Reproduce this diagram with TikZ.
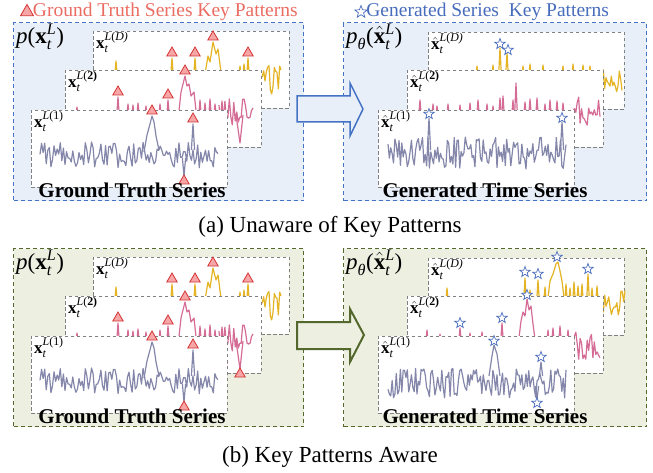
\documentclass[tikz,border=0pt]{standalone}
\usepackage{amsmath}
\usepackage{fontspec}
\setmainfont{Liberation Serif}
\usetikzlibrary{positioning,shapes.geometric}

\definecolor{gtred}{RGB}{234,108,98}
\definecolor{mkred}{RGB}{212,50,50}
\definecolor{mkfill}{RGB}{246,166,166}
\definecolor{genblue}{RGB}{72,108,188}
\definecolor{edgeblue}{RGB}{68,114,196}
\definecolor{panelblue}{RGB}{233,239,248}
\definecolor{edgegreen}{RGB}{84,104,46}
\definecolor{panelgreen}{RGB}{237,240,225}
\definecolor{seryel}{RGB}{228,180,36}
\definecolor{serpink}{RGB}{212,108,150}
\definecolor{sergray}{RGB}{132,134,170}

\tikzset{
  panel/.style={draw, line width=1.1pt, dash pattern=on 4pt off 3pt,
                anchor=north west, inner sep=0pt, minimum height=178pt},
  card/.style={draw=black!50, fill=white, line width=0.9pt, dash pattern=on 3.5pt off 2.5pt,
               anchor=north west, inner sep=0pt, minimum width=196pt, minimum height=77pt},
  clbl/.style={anchor=north west, inner xsep=3pt, inner ysep=1pt, font=\fontsize{17}{17}\selectfont},
  plbl/.style={anchor=north west, inner xsep=3pt, inner ysep=2pt, font=\fontsize{23}{23}\selectfont},
  tri/.style={regular polygon, regular polygon sides=3, draw=mkred, fill=mkfill,
              line width=0.8pt, minimum size=12pt, inner sep=0pt},
  gstar/.style={star, star points=5, star point ratio=2.4, draw=genblue, fill=white,
                line width=0.7pt, minimum size=11pt, inner sep=0pt},
  ser/.style={line width=1.2pt, line join=round},
  sercap/.style={font=\fontsize{21}{21}\selectfont\bfseries, inner sep=0pt},
  keyttl/.style={anchor=west, inner sep=1pt, font=\fontsize{19.5}{20}\selectfont},
  subcap/.style={font=\fontsize{23}{23}\selectfont, inner sep=0pt}
}

% text-font pieces for the formula labels
\newcommand{\tsub}[1]{\text{\itshape #1}}
\newcommand{\xb}{\text{\bfseries x}}
\newcommand{\xh}{\hat{\text{\bfseries x}}{}}
% noisy stretch: style, x0, x1, samples, base, amplitude
\newcommand{\noise}[6]{\draw[ser,#1] plot[domain=#2:#3, samples=#4] (\x,{#5+#6*rand});}
% one spike: style, x, base, top
\newcommand{\spk}[4]{\draw[ser,#1] (#2-1.6,#3) -- (#2,#4) -- (#2+1.6,#3);}

% the three ground truth cards
\newcommand{\gtcards}[1]{%
  % card D
  \node[card] (#1D) at (93,31) {};
  \node[clbl] (#1Dl) at (#1D.north west) {$\xb_{\tsub{t}}^{\tsub{L}\text{(\itshape D)}}$};
  \pgfmathsetseed{7}
  \noise{seryel}{113}{262}{50}{95}{3}
  \noise{seryel}{261}{281}{16}{80}{15}
  \foreach \sx/\sy in {116/61,172/58,195/58,240/66,244/64,248/58}
    {\spk{seryel}{\sx}{80}{\sy}}
  \draw[ser,seryel] (204,80) -- (208,56) -- (210,62) -- (213,42) -- (216,54) -- (218,49) -- (222,80);
  \foreach \tx/\ty [count=\i] in {172/53,195/53,213/37,248/53}
    {\node[tri] (#1Dt\i) at (\tx,\ty) {};}
  % card 2
  \node[card] (#1two) at (65,70) {};
  \node[clbl] (#1twol) at (#1two.north west) {$\xb_{\tsub{t}}^{\tsub{L}\text{(\bfseries 2)}}$};
  \pgfmathsetseed{21}
  \noise{serpink}{76}{228}{60}{135}{4}
  \noise{serpink}{219}{253}{24}{112}{14}
  \draw[ser,serpink] (236,115) -- (240,143) -- (243,115);
  \foreach \sx/\sy in {77/107,118/97,128/104,133/105,138/103,146/106,152/106,160/104,
                       168/100,200/100,205/103,210/99,215/104,222/101}
    {\spk{serpink}{\sx}{120}{\sy}}
  \draw[ser,serpink] (178,120) -- (181,92) -- (183,84) -- (185,76) -- (187,86) -- (189,84)
    -- (191,96) -- (194,92) -- (197,120);
  \foreach \tx/\ty [count=\i] in {118/92,168/95,185/71}
    {\node[tri] (#1twot\i) at (\tx,\ty) {};}
  % card 1
  \node[card] (#1one) at (31,110) {};
  \node[clbl] (#1onel) at (#1one.north west) {$\xb_{\tsub{t}}^{\tsub{L}\text{(1)}}$};
  \pgfmathsetseed{5}
  \noise{sergray}{40}{218}{115}{155}{13}
  \draw[ser,sergray] (144,152) -- (147,135) -- (150,124) -- (152,116) -- (154,122) -- (156,136) -- (159,150);
  \spk{sergray}{193}{150}{124}
  \spk{sergray}{184}{158}{176}
  \foreach \tx/\ty [count=\i] in {152/111,193/119,184/181}
    {\node[tri] (#1onet\i) at (\tx,\ty) {};}
  \node[sercap] (#1cap) at (132,190) {Ground Truth Series};
}

\begin{document}
\begin{tikzpicture}[x=1pt, y=-1pt]
  \useasboundingbox (0,0) rectangle (653,473);

  % legend titles
  \node[tri, minimum size=15pt] (gtmk) at (27,12) {};
  \node[keyttl, text=gtred] (gtttl) at (gtmk.east) {Ground Truth Series Key Patterns};
  \node[gstar, minimum size=13pt] (genmk) at (361,12) {};
  \node[keyttl, text=genblue] (genttl) at (genmk.east) {Generated Series\ \ Key Patterns};

  % (a) unaware
  \node[panel, draw=edgeblue, fill=panelblue, minimum width=290pt] (gtA) at (13,22) {};
  \node[panel, draw=edgeblue, fill=panelblue, minimum width=303pt] (genA) at (343,22) {};
  \node[plbl] (gtAl) at (gtA.north west) {$\tsub{p}\text{(}\xb_{\tsub{t}}^{\tsub{L}}\text{)}$};
  \node[plbl] (genAl) at (genA.north west) {$\tsub{p}_{\tsub{θ}}\text{(}\xh_{\tsub{t}}^{\tsub{L}}\text{)}$};
  \gtcards{a}

  \node[card] (uaD) at (428,32) {};
  \node[clbl] (uaDl) at (uaD.north west) {$\xh_{\tsub{t}}^{\tsub{L}\text{(\itshape D)}}$};
  \pgfmathsetseed{31}
  \noise{seryel}{445}{603}{60}{95}{3}
  \noise{seryel}{602}{622}{16}{80}{14}
  \foreach \sx/\sy in {477/66,493/65,523/66,530/64,543/65,563/66,573/64,583/65,590/66,500/48,507/53}
    {\spk{seryel}{\sx}{80}{\sy}}
  \node[gstar] (uaDs1) at (500,44) {};
  \node[gstar] (uaDs2) at (508,50) {};

  \node[card] (uatwo) at (407,70) {};
  \node[clbl] (uatwol) at (uatwo.north west) {$\xh_{\tsub{t}}^{\tsub{L}\text{(\bfseries 2)}}$};
  \pgfmathsetseed{41}
  \noise{serpink}{418}{574}{60}{135}{4}
  \noise{serpink}{573}{600}{20}{112}{15}
  \foreach \sx/\sy in {420/100,433/104,437/106,448/104,460/105,470/103,478/100,487/104,493/106,
                       500/98,503/96,513/100,516/83,525/102,530/99,537/98,545/104,550/100,557/101,563/103}
    {\spk{serpink}{\sx}{120}{\sy}}

  \node[card] (uaone) at (378,110) {};
  \node[clbl] (uaonel) at (uaone.north west) {$\xh_{\tsub{t}}^{\tsub{L}\text{(1)}}$};
  \pgfmathsetseed{51}
  \noise{sergray}{388}{566}{130}{153}{16}
  \spk{sergray}{429}{150}{118}
  \spk{sergray}{562}{150}{122}
  \node[gstar] (uaones1) at (429,114) {};
  \node[gstar] (uaones2) at (562,118) {};
  \node[sercap] (uacap) at (485,190) {Generated Time Series};

  \draw[line width=1.5pt, draw=edgeblue, fill=panelblue, line join=miter]
    (297,96) -- (350,96) -- (350,83) -- (363,109) -- (350,136) -- (350,122) -- (297,122) -- cycle;
  \node[subcap] (capA) at (330,227) {(a) Unaware of Key Patterns};

  % (b) aware
  \node[panel, draw=edgegreen, fill=panelgreen, minimum width=290pt] (gtB) at (13,248) {};
  \node[panel, draw=edgegreen, fill=panelgreen, minimum width=303pt] (genB) at (343,248) {};
  \node[plbl] (gtBl) at (gtB.north west) {$\tsub{p}\text{(}\xb_{\tsub{t}}^{\tsub{L}}\text{)}$};
  \node[plbl] (genBl) at (genB.north west) {$\tsub{p}_{\tsub{θ}}\text{(}\xh_{\tsub{t}}^{\tsub{L}}\text{)}$};
  \begin{scope}[shift={(0,226)}]
    \gtcards{b}
    \node[tri] (btwot4) at (240,148) {};

    \node[card] (awD) at (428,32) {};
    \node[clbl] (awDl) at (awD.north west) {$\xh_{\tsub{t}}^{\tsub{L}\text{(\itshape D)}}$};
    \pgfmathsetseed{61}
    \noise{seryel}{445}{603}{60}{95}{3}
    \noise{seryel}{602}{625}{18}{75}{14}
    \foreach \sx/\sy in {447/62,530/64,545/61,566/58,570/62,574/56,578/60,582/58,592/62,597/60,
                         525/52,538/54,588/48}
      {\spk{seryel}{\sx}{80}{\sy}}
    \draw[ser,seryel] (547,80) -- (550,55) -- (553,48) -- (556,38) -- (558,36) -- (560,45) -- (562,55) -- (565,80);
    \foreach \tx/\ty [count=\i] in {525/46,538/48,557/31,588/43}
      {\node[gstar] (awDs\i) at (\tx,\ty) {};}

    \node[card] (awtwo) at (407,70) {};
    \node[clbl] (awtwol) at (awtwo.north west) {$\xh_{\tsub{t}}^{\tsub{L}\text{(\bfseries 2)}}$};
    \pgfmathsetseed{71}
    \noise{serpink}{418}{574}{60}{135}{4}
    \noise{serpink}{573}{600}{20}{120}{14}
    \foreach \sx/\sy in {427/104,440/108,460/102,470/107,482/106,502/97,548/104,553/102,560/100,568/104}
      {\spk{serpink}{\sx}{120}{\sy}}
    \draw[ser,serpink] (518,120) -- (521,95) -- (523,86) -- (525,90) -- (527,73) -- (529,84) -- (531,80)
      -- (533,98) -- (536,120);
    \foreach \tx/\ty [count=\i] in {460/97,502/92,527/69}
      {\node[gstar] (awtwos\i) at (\tx,\ty) {};}

    \node[card] (awone) at (378,110) {};
    \node[clbl] (awonel) at (awone.north west) {$\xh_{\tsub{t}}^{\tsub{L}\text{(1)}}$};
    \pgfmathsetseed{81}
    \noise{sergray}{388}{566}{130}{157}{15}
    \draw[ser,sergray] (489,150) -- (492,130) -- (494,119) -- (497,128) -- (500,150);
    \spk{sergray}{541}{150}{136}
    \spk{sergray}{537}{160}{174}
    \foreach \tx/\ty [count=\i] in {494/115,541/131,537/177}
      {\node[gstar] (awones\i) at (\tx,\ty) {};}
    \node[sercap] (awcap) at (485,190) {Generated Time Series};
  \end{scope}

  \draw[line width=2pt, draw=edgegreen, fill=panelgreen, line join=miter]
    (297,322) -- (350,322) -- (350,309) -- (364,335) -- (350,362) -- (350,349) -- (297,349) -- cycle;
  \node[subcap] (capB) at (330,457) {(b) Key Patterns Aware};
\end{tikzpicture}
\end{document}
